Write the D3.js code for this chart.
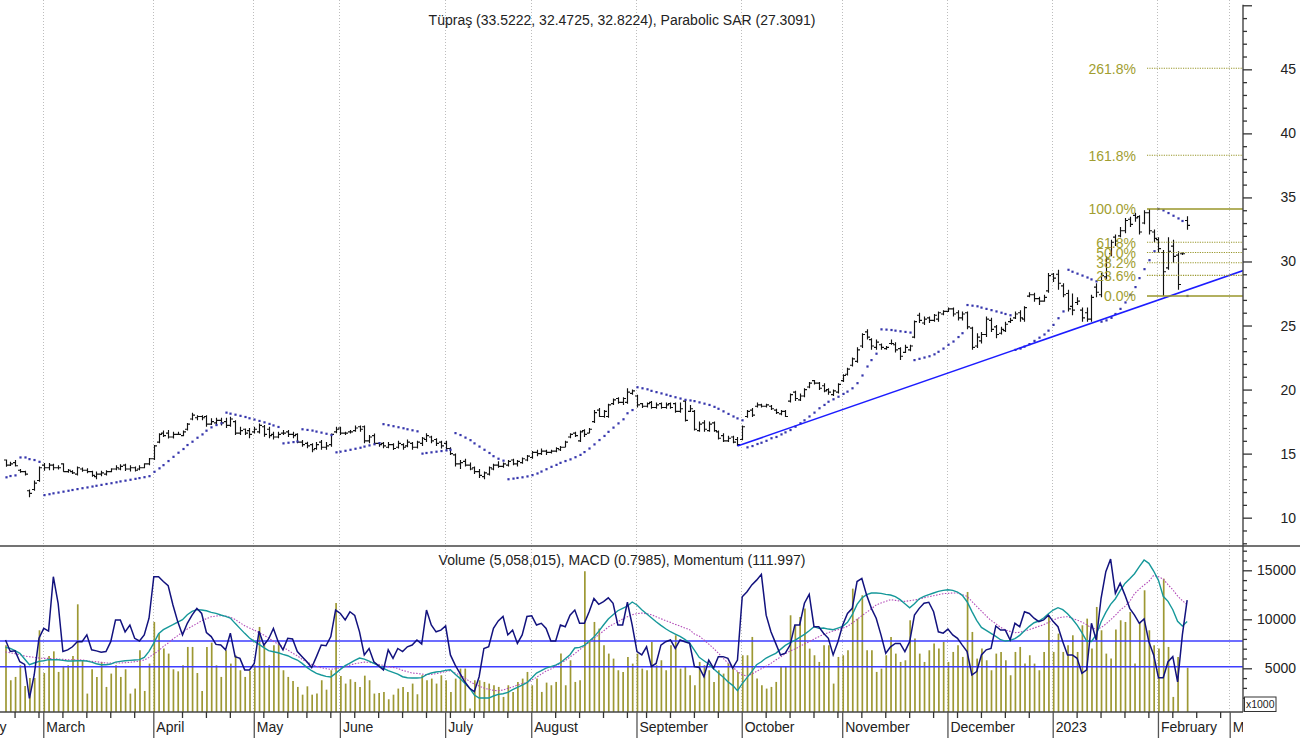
<!DOCTYPE html>
<html><head><meta charset="utf-8">
<script src="https://cdn.jsdelivr.net/npm/d3@7"></script>
<style>
html,body{margin:0;padding:0;background:#fff;}
svg{display:block;font-family:"Liberation Sans",Arial,sans-serif;}
</style></head><body>
<svg id="chart" width="1302" height="740"></svg>
<script>
// ---------------- DATA (trading-day index 0 = 17 Feb 2022) ----------------
const highP = [14.55,14.36,14.5,13.8,13.66,12.2,12.9,14.0,14.26,14.26,
14.2,14.1,14.24,13.8,13.71,14.0,13.92,13.85,13.66,13.6,
13.66,13.71,13.85,14.1,14.18,14.2,14.1,14.0,14.1,14.24,
14.65,15.67,16.6,16.8,16.84,16.7,16.7,16.8,17.4,18.2,
18.0,18.0,18.0,17.76,17.8,17.8,17.8,17.88,17.6,17.1,
16.97,17.0,17.1,17.36,17.23,17.1,16.7,16.7,16.84,16.84,
16.7,16.6,16.06,15.93,15.8,15.9,16.06,15.9,16.58,17.1,
17.1,16.7,16.84,17.2,17.2,17.2,16.45,16.58,15.9,15.9,
15.9,15.8,16.0,15.8,16.1,15.9,16.0,16.3,16.6,16.4,
16.2,16.0,16.0,15.5,15.0,14.5,14.6,14.3,14.0,13.8,
13.6,14.0,14.2,14.4,14.3,14.5,14.6,14.5,14.7,14.9,
15.2,15.3,15.4,15.3,15.3,15.5,15.6,16.0,16.6,16.7,
16.8,16.9,17.0,18.4,18.56,18.4,18.9,19.3,19.4,19.4,
20.1,20.0,19.6,18.95,19.0,19.1,19.0,19.0,19.0,19.0,
19.0,19.0,19.2,18.8,18.4,17.5,17.6,17.5,17.5,16.8,
16.6,16.4,16.4,16.3,17.2,18.4,18.56,19.0,18.9,18.9,
18.8,18.5,18.4,18.4,19.7,19.9,19.7,20.1,20.6,20.75,
20.6,20.5,20.1,20.0,20.5,21.2,21.7,22.5,23.3,24.4,
24.7,24.0,23.9,23.6,23.4,23.9,23.7,23.3,23.5,23.5,
25.4,26.0,25.7,25.7,25.9,26.1,26.2,26.4,26.4,26.2,
26.1,26.1,24.9,24.4,24.5,25.7,25.6,25.05,24.9,25.3,
25.6,26.1,26.2,26.5,27.6,27.55,27.25,27.4,29.1,29.1,
29.35,28.3,27.8,27.5,27.2,26.4,26.4,27.4,28.3,29.1,
30.4,31.7,32.1,32.7,33.4,33.5,33.8,33.6,34.0,34.1,
32.5,31.9,30.9,31.9,31.7,30.8,30.7,33.5222];
const lowP = [13.97,14.03,14.0,13.5,13.3,11.6,12.1,12.8,13.66,13.7,
13.7,13.77,13.58,13.5,13.4,13.3,13.58,13.46,13.2,13.0,
13.24,13.3,13.55,13.7,13.71,13.65,13.6,13.6,13.7,13.85,
14.1,14.5,15.8,16.3,16.19,16.19,16.45,16.35,16.8,17.6,
17.6,17.6,17.1,17.23,17.2,17.2,17.0,17.1,16.45,16.45,
16.45,16.2,16.58,16.58,16.32,16.2,16.1,16.2,16.45,16.3,
16.2,15.8,15.54,15.41,15.1,15.3,15.3,15.3,15.54,16.6,
16.45,16.45,16.58,16.7,16.7,15.8,15.8,15.67,15.54,15.41,
15.41,15.28,15.4,15.3,15.5,15.3,15.4,15.6,15.9,15.8,
15.6,15.4,15.3,14.9,14.0,13.8,14.0,13.7,13.4,13.1,
13.0,13.3,13.7,13.9,13.9,14.0,14.1,14.0,14.2,14.4,
14.6,14.8,14.9,14.9,15.0,15.1,15.2,15.5,16.2,16.3,
15.9,16.3,16.6,17.4,17.86,17.8,17.8,18.8,18.9,18.8,
18.9,19.6,18.6,18.56,18.6,18.5,18.5,18.5,18.5,18.5,
18.2,18.2,17.5,18.25,16.8,16.7,16.7,16.7,16.7,16.1,
15.9,15.9,15.8,15.59,16.05,17.8,17.86,18.6,18.6,18.6,
18.4,18.1,18.0,17.85,19.0,19.1,19.1,19.4,20.1,20.4,
19.97,19.8,19.6,19.5,19.7,20.6,21.1,21.8,22.1,23.25,
23.9,23.1,23.1,23.1,23.1,23.5,22.9,22.3,22.85,23.0,
24.0,25.2,25.05,25.2,25.3,25.3,25.8,26.05,25.7,25.4,
25.4,24.7,23.1,23.25,23.6,24.1,24.5,24.0,24.3,24.5,
25.2,25.5,25.3,25.3,27.2,26.85,26.6,26.85,27.55,28.4,
27.8,27.2,26.1,25.8,26.6,25.3,25.3,25.3,27.2,27.2,
28.6,30.4,31.2,31.9,32.2,32.7,33.1,32.1,32.9,32.1,
31.5,30.7,27.31,29.35,29.9,27.8,30.5,32.4725];
const openP = [14.5,14.1,14.3,13.7,13.6,12.1,12.2,12.9,14.1,13.9,
14.1,13.9,14.2,13.6,13.6,13.4,13.8,13.7,13.6,13.2,
13.4,13.4,13.6,13.8,13.8,14.1,13.8,13.9,13.8,13.9,
14.2,14.6,15.9,16.6,16.6,16.3,16.5,16.4,16.9,17.7,
17.8,17.9,17.9,17.3,17.4,17.6,17.5,17.2,17.5,16.6,
16.9,16.8,16.7,16.7,17.1,16.9,16.5,16.3,16.6,16.7,
16.5,16.5,15.9,15.8,15.7,15.4,15.9,15.5,15.7,16.7,
17.0,16.6,16.7,16.8,17.1,17.1,16.0,16.4,15.8,15.8,
15.5,15.7,15.5,15.7,15.6,15.8,15.5,15.8,16.1,16.3,
16.1,15.9,15.8,15.4,14.9,14.2,14.4,14.1,13.9,13.6,
13.2,13.4,13.8,14.1,14.0,14.1,14.5,14.2,14.3,14.5,
14.7,15.1,15.0,15.2,15.1,15.2,15.3,15.5,16.3,16.6,
16.0,16.8,16.6,17.5,18.4,17.9,17.9,18.9,19.3,19.0,
19.0,19.7,19.5,18.9,18.7,19.0,18.6,18.9,18.6,18.9,
18.9,18.3,19.1,18.3,18.3,16.8,17.4,16.8,17.4,16.7,
16.4,16.0,16.3,16.1,16.1,17.9,18.4,18.7,18.8,18.7,
18.7,18.4,18.1,18.3,19.1,19.8,19.2,19.5,20.2,20.7,
20.5,20.3,20.0,19.6,19.8,20.7,21.2,21.9,22.2,23.4,
24.5,23.9,23.3,23.5,23.2,23.6,23.5,23.2,22.9,23.1,
24.1,25.8,25.2,25.6,25.4,25.5,25.9,26.1,26.3,26.0,
25.6,26.0,24.8,23.4,23.8,24.3,25.4,24.9,24.4,24.6,
25.3,25.6,26.0,25.5,27.3,27.4,27.1,26.9,27.7,29.0,
29.0,28.1,27.5,26.5,26.8,26.2,26.0,25.5,28.0,27.4,
28.8,30.6,31.9,32.0,32.4,33.3,33.6,33.5,33.0,33.8,
32.3,31.7,30.7,29.5,31.2,30.5,30.6,33.2];
const closeP = [14.1,14.2,14.05,13.6,13.4,11.9,12.7,13.9,13.9,14.1,
13.9,13.9,13.6,13.7,13.5,13.9,13.7,13.6,13.3,13.4,
13.5,13.6,13.8,13.9,14.0,13.8,13.9,13.7,13.9,14.2,
14.6,15.6,16.5,16.4,16.3,16.5,16.5,16.7,17.3,18.0,
17.9,17.8,17.3,17.5,17.6,17.4,17.2,17.7,16.6,16.8,
16.6,16.5,16.9,17.2,16.5,16.4,16.3,16.5,16.6,16.5,
16.4,15.9,15.7,15.6,15.3,15.7,15.5,15.6,16.5,16.9,
16.6,16.6,16.7,17.0,16.9,16.0,16.3,15.8,15.7,15.6,
15.7,15.4,15.8,15.5,15.9,15.5,15.9,16.2,16.4,16.0,
15.8,15.6,15.4,15.0,14.2,14.3,14.1,13.8,13.6,13.3,
13.5,13.9,14.1,14.0,14.2,14.4,14.2,14.4,14.6,14.8,
15.1,15.0,15.2,15.1,15.2,15.4,15.5,15.9,16.5,16.4,
16.7,16.5,16.9,18.2,17.9,18.3,18.8,19.2,19.0,19.3,
19.8,19.9,18.8,18.7,18.9,18.6,18.8,18.6,18.8,18.6,
18.3,18.5,17.6,18.5,16.9,17.3,16.9,17.3,16.8,16.2,
16.0,16.2,15.9,15.7,17.1,18.3,18.0,18.8,18.7,18.8,
18.5,18.2,18.3,17.9,19.6,19.3,19.5,20.0,20.5,20.5,
20.1,19.9,19.8,19.9,20.4,21.1,21.6,22.4,23.1,24.3,
24.1,23.4,23.7,23.3,23.3,23.6,23.1,22.6,23.3,23.4,
25.3,25.4,25.5,25.4,25.8,26.0,26.1,26.3,25.9,25.6,
25.9,24.9,23.3,24.1,24.3,25.5,24.7,24.3,24.7,25.1,
25.4,25.9,25.6,26.4,27.4,27.1,26.9,27.2,28.9,28.7,
28.3,27.4,26.3,26.2,26.9,25.6,25.5,27.2,27.6,28.9,
30.2,31.5,31.6,32.4,33.2,32.9,33.4,32.3,33.8,32.4,
31.8,31.0,29.2,30.8,30.4,28.2,30.6,32.8224];
const sarP = [13.15,13.25,13.3,
14.7,14.7,14.57,14.5,14.36,
11.76,11.83,11.90,11.96,12.03,12.10,12.16,12.23,12.30,12.36,12.43,12.49,12.56,12.63,12.69,12.76,12.83,12.89,12.96,13.03,13.09,13.16,13.24,
13.58,13.85,14.1,14.42,14.75,15.07,15.36,15.67,15.93,16.24,16.5,16.79,17.05,17.23,17.37,
18.2,18.12,18.04,17.95,17.86,17.76,17.66,17.55,17.44,17.32,17.2,17.08,
15.8,15.85,15.9,15.95,
16.9,16.85,16.8,16.72,16.64,16.55,16.45,
15.1,15.15,15.22,15.3,15.38,15.46,15.55,15.64,15.73,15.82,
17.3,17.22,17.14,17.06,16.98,16.9,16.82,16.74,
15.0,15.05,15.1,15.15,15.2,15.25,15.3,
16.6,16.45,16.25,16.05,15.8,15.55,15.3,15.05,14.8,14.6,14.45,
13.0,13.05,13.1,13.15,13.22,13.32,13.45,13.6,13.78,
13.97,14.12,14.28,14.42,14.55,14.72,14.9,15.12,15.4,15.72,16.06,16.38,16.7,17.03,17.36,17.68,18.15,18.4,
20.18,20.1,20.02,19.9,19.8,19.7,19.6,19.5,19.4,19.3,19.2,19.15,19.1,19.0,18.9,18.8,18.65,18.5,18.3,18.1,17.9,17.75,17.6,
15.49,15.59,15.75,15.85,16.0,16.2,16.3,16.5,16.66,16.84,17.1,17.37,17.6,17.9,18.2,18.54,18.8,19.05,19.24,19.44,19.66,19.84,20.1,20.5,21.1,21.8,22.3,22.8,
24.7,24.68,24.65,24.6,24.55,24.5,24.45,
22.3,22.4,22.5,22.6,22.75,22.95,23.2,23.5,23.75,24.1,24.4,
26.6,26.55,26.5,26.4,26.3,26.2,26.1,26.0,25.9,25.8,
23.1,23.2,23.35,23.55,23.8,24.05,24.3,24.6,25.05,25.57,26.1,
29.35,29.2,29.05,28.9,28.75,28.6,28.45,
25.3,25.4,25.6,25.9,26.3,26.8,27.4,28.0,28.7,29.4,30.1,30.8,
34.1,33.99,33.78,33.57,33.36,33.16,
27.3091];
const volumeK = [7350,3780,4120,5310,3200,4010,4010,8880,4520,6260,
6730,4630,5240,5310,6260,11530,5820,2420,4900,4120,
5650,3100,4460,5310,4120,4900,2420,2930,6840,2690,
5480,9730,8540,7010,6500,4900,4690,5310,7180,7180,
4520,2690,7180,7620,5310,4120,6840,5480,6330,4800,
4120,4760,5310,9220,7350,5310,7350,7690,4800,4120,
3710,3100,2310,3160,2310,2420,3780,2820,4800,11670,
4220,3440,3880,3610,3100,4250,3780,2420,2480,2590,
1840,2310,2930,3100,2590,3440,2350,4290,3780,3950,
3440,4290,3780,2590,3950,4970,4970,890,3780,3780,
3610,3440,3270,3100,2080,3270,2590,3610,3950,4630,
3270,3950,2590,3540,3270,3610,6500,3270,5820,3610,
3780,14900,7690,9730,9050,7350,6500,5990,4800,4630,
6160,5480,6500,4970,4800,7690,5310,5820,4800,7350,
8370,4970,5140,4290,3270,5650,5310,4800,3610,4800,
4460,5480,4970,4630,6330,6330,8200,3950,3270,2930,
3100,3610,5140,5140,10410,9390,10240,11090,7010,6330,
5650,7350,7350,3440,6160,6330,6840,13130,10070,12450,
6840,6840,4630,4970,6330,8200,6500,5650,5820,9900,
8030,6500,5650,6840,7520,7010,7690,5650,6670,7350,
6160,12790,8710,5990,7010,5820,4800,6500,6670,5820,
4290,6670,7180,5480,6330,5480,4800,6670,10410,6670,
8540,6670,7350,8370,6670,9390,10070,7010,11260,8880,
6500,5990,8950,9900,9730,10750,5480,9730,12960,8880,
7350,7010,14150,7180,2080,6160,0,5058];
const momentumV = [100.3,96.9,97.1,93.9,93.1,83.1,90.0,100.8,103.7,102.9,
118.9,111.1,96.9,97.4,98.3,99.8,99.8,101.8,97.4,97.1,
96.7,96.9,99.8,106.2,106.2,102.7,104.7,100.8,100.0,101.8,
106.7,118.9,118.9,117.5,116.3,110.6,105.7,101.8,105.2,107.6,
109.6,108.1,102.5,101.3,99.0,98.8,97.4,102.3,95.4,94.9,
91.5,91.5,93.4,102.9,98.8,100.6,103.7,99.8,97.4,100.8,
100.6,96.9,95.4,93.9,92.2,95.4,98.8,98.6,101.3,109.1,
108.1,106.2,108.6,107.5,102.7,95.9,97.8,93.9,92.7,91.5,
97.4,94.9,97.8,96.9,98.3,98.8,100.3,99.1,109.1,104.7,
102.7,103.2,104.4,95.9,92.9,90.5,88.0,86.1,85.1,89.5,
97.8,98.3,103.7,105.9,107.2,101.8,103.2,99.3,101.8,107.2,
107.4,104.7,105.2,103.7,100.0,100.0,104.7,104.2,107.6,109.1,
105.2,105.2,108.6,112.5,110.8,111.6,112.7,111.1,104.7,104.7,
111.4,104.7,96.9,95.9,98.3,92.5,93.4,98.8,99.8,100.3,
97.8,100.3,99.8,99.3,92.5,92.2,89.5,94.4,92.0,95.4,
95.4,94.9,92.0,94.4,113.0,114.5,116.5,117.9,119.6,107.6,
102.7,99.3,95.9,96.4,98.8,104.7,104.7,111.1,113.7,104.2,
104.2,102.3,100.8,95.9,99.8,104.7,108.1,109.6,117.5,118.4,
113.5,109.6,106.7,101.8,96.4,98.3,99.3,99.3,96.9,99.8,
107.6,109.6,111.1,111.4,108.6,102.7,102.3,103.5,101.8,100.8,
98.8,96.9,90.0,91.0,95.9,97.4,97.8,104.4,103.2,103.2,
100.3,105.2,104.2,108.6,108.1,106.7,105.7,106.2,107.6,105.7,
104.2,99.8,95.9,95.9,94.9,90.5,91.5,105.2,100.3,112.5,
120.4,124.1,114.0,117.0,113.5,109.6,107.6,105.2,106.5,99.8,
95.9,89.2,89.2,93.9,95.4,88.0,101.8,111.997];
const macdV = [0.342,0.324,0.283,0.236,0.135,0.035,0.065,0.094,0.106,0.124,
0.124,0.124,0.112,0.1,0.1,0.106,0.106,0.1,0.082,0.053,
0.035,0.035,0.047,0.082,0.094,0.106,0.112,0.118,0.124,0.165,
0.271,0.418,0.583,0.654,0.701,0.742,0.789,0.83,0.919,0.978,
1.007,1.001,0.989,0.96,0.942,0.913,0.889,0.86,0.766,0.677,
0.589,0.506,0.448,0.395,0.336,0.283,0.265,0.247,0.218,0.194,
0.153,0.118,0.059,-0.012,-0.071,-0.118,-0.147,-0.171,-0.183,-0.118,
-0.047,0.018,0.065,0.112,0.153,0.135,0.1,0.059,0.018,-0.029,
-0.071,-0.1,-0.13,-0.177,-0.194,-0.2,-0.2,-0.194,-0.141,-0.112,
-0.094,-0.082,-0.065,-0.053,-0.135,-0.206,-0.294,-0.377,-0.5,-0.554,
-0.554,-0.554,-0.518,-0.489,-0.477,-0.453,-0.406,-0.365,-0.324,-0.283,
-0.2,-0.112,-0.071,-0.024,0,0.029,0.071,0.141,0.212,0.33,
0.342,0.377,0.448,0.524,0.624,0.736,0.842,0.919,0.989,1.031,
1.072,1.143,1.09,1.007,0.936,0.866,0.795,0.73,0.671,0.618,
0.577,0.536,0.483,0.418,0.294,0.165,0.106,0.047,-0.035,-0.112,
-0.183,-0.265,-0.33,-0.424,-0.3,-0.194,-0.088,0.035,0.088,0.153,
0.194,0.236,0.306,0.377,0.424,0.465,0.518,0.571,0.636,0.707,
0.677,0.683,0.665,0.654,0.683,0.713,0.783,0.919,1.101,1.213,
1.272,1.302,1.302,1.296,1.278,1.266,1.237,1.184,1.113,1.042,
1.113,1.201,1.243,1.272,1.302,1.331,1.349,1.36,1.349,1.319,
1.26,1.148,0.978,0.819,0.695,0.642,0.589,0.536,0.477,0.453,
0.465,0.495,0.554,0.636,0.713,0.777,0.807,0.86,0.936,1.001,
1.042,1.007,0.936,0.842,0.736,0.601,0.453,0.447,0.565,0.789,
0.96,1.101,1.201,1.343,1.472,1.555,1.643,1.767,1.885,1.826,
1.69,1.525,1.243,1.154,1.007,0.801,0.718,0.7985];
const signalV = [0.259,0.247,0.23,0.212,0.188,0.177,0.165,0.153,0.147,0.147,
0.141,0.135,0.13,0.124,0.124,0.124,0.118,0.106,0.094,0.088,
0.077,0.065,0.065,0.065,0.065,0.071,0.077,0.088,0.1,0.118,
0.165,0.224,0.283,0.359,0.418,0.489,0.548,0.612,0.665,0.713,
0.76,0.813,0.848,0.883,0.895,0.901,0.895,0.872,0.836,0.777,
0.724,0.683,0.648,0.601,0.559,0.506,0.448,0.4,0.347,0.294,
0.241,0.194,0.13,0.082,0.041,0.006,-0.018,-0.035,-0.047,-0.035,
-0.018,0,0.029,0.053,0.065,0.082,0.077,0.065,0.041,0.024,
0,-0.012,-0.029,-0.065,-0.088,-0.112,-0.118,-0.13,-0.141,-0.135,
-0.124,-0.106,-0.082,-0.071,-0.112,-0.147,-0.2,-0.259,-0.306,-0.342,
-0.377,-0.4,-0.418,-0.424,-0.412,-0.383,-0.359,-0.324,-0.3,-0.283,
-0.236,-0.188,-0.13,-0.077,-0.041,0.006,0.059,0.106,0.171,0.23,
0.3,0.365,0.43,0.501,0.565,0.63,0.701,0.748,0.795,0.842,
0.883,0.919,0.936,0.948,0.936,0.919,0.883,0.848,0.813,0.783,
0.748,0.718,0.683,0.654,0.577,0.542,0.471,0.4,0.324,0.241,
0.153,0.065,-0.006,-0.082,-0.141,-0.165,-0.13,-0.082,-0.035,0.006,
0.059,0.118,0.171,0.23,0.277,0.312,0.359,0.4,0.441,0.489,
0.53,0.571,0.601,0.63,0.654,0.683,0.713,0.771,0.836,0.901,
0.96,1.025,1.09,1.125,1.154,1.184,1.172,1.16,1.154,1.166,
1.178,1.19,1.219,1.237,1.254,1.272,1.29,1.296,1.302,1.302,
1.272,1.243,1.154,1.066,0.983,0.895,0.819,0.76,0.695,0.648,
0.624,0.601,0.607,0.63,0.654,0.683,0.713,0.742,0.783,0.824,
0.86,0.877,0.883,0.854,0.824,0.789,0.742,0.683,0.665,0.689,
0.754,0.83,0.907,1.001,1.066,1.154,1.29,1.372,1.443,1.508,
1.614,1.59,1.549,1.449,1.36,1.249,1.166,1.095];

const monthLabels = ["February","March","April","May","June","July","August","September","October","November","December","2023","February","March"];
const monthIdx = [-12,8,31,52,70,92,110,132,154,175,197,219,241,256];
const weekIdx = [2,7,12,17,22,27,37,42,47,54,59,63,68,73,78,83,88,93,98,100,105,115,120,125,130,134,139,144,149,159,164,169,174,179,184,189,194,199,204,209,214,224,229,234,239,244,249,254];
const priceMajorTicks = [10,15,20,25,30,35,40,45,50];
const volumeMajorTicks = [5000,10000,15000];

const fibPct = [0,23.6,38.2,50,61.8,100,161.8,261.8];
const fibLabels = ["0.0%","23.6%","38.2%","50.0%","61.8%","100.0%","161.8%","261.8%"];
const fibLow = 27.31, fibHigh = 34.1, fibStartIdx = 238.6;
const trendIdx = [153, 258.8];
const trendVal = [15.59, 29.3];
const momentumRef = 100, macdRef = 0;

const titleText = "Tüpraş (33.5222, 32.4725, 32.8224), Parabolic SAR (27.3091)";
const subTitleText = "Volume (5,058,015), MACD (0.7985), Momentum (111.997)";

// ---------------- LAYOUT ----------------
const svg = d3.select("#chart");
const plotR = 1243, sepY = 546, axisY = 712;
const x = d3.scaleLinear().domain([0,247]).range([5.5, 5.5 + 4.784*247]);
const yP = d3.scaleLinear().domain([10,45]).range([517.67,69.33]);
const yV = d3.scaleLinear().domain([5000,15000]).range([668.3,570.3]);
const yM = d3.scaleLinear().domain([100,110]).range([641,607]);
const yD = d3.scaleLinear().domain([0,1]).range([666.7,610.1]);
const font = '"Liberation Sans",Arial,sans-serif';

svg.append("rect").attr("width",1302).attr("height",740).attr("fill","#fff");
const defs = svg.append("defs");
defs.append("clipPath").attr("id","cTop").append("rect").attr("x",0).attr("y",0).attr("width",plotR).attr("height",sepY);
defs.append("clipPath").attr("id","cBot").append("rect").attr("x",0).attr("y",sepY+1).attr("width",plotR).attr("height",axisY-sepY-1);
defs.append("clipPath").attr("id","cLab").append("rect").attr("x",0).attr("y",axisY).attr("width",plotR).attr("height",30);

// grid
svg.append("g").selectAll("line").data(monthIdx).join("line")
  .attr("x1",d=>Math.round(x(d))-0.5).attr("x2",d=>Math.round(x(d))-0.5)
  .attr("y1",0).attr("y2",axisY)
  .attr("stroke","#bdbdbd").attr("stroke-width",1).attr("stroke-dasharray","1,2");

// ---- bottom panel ----
const gB = svg.append("g").attr("clip-path","url(#cBot)");
gB.append("g").selectAll("line").data(volumeK.map((v,i)=>({v,i})).filter(d=>d.v>0)).join("line")
  .attr("x1",d=>x(d.i)+0.5).attr("x2",d=>x(d.i)+0.5)
  .attr("y1",d=>Math.max(yV(d.v),sepY)).attr("y2",axisY)
  .attr("stroke","#9d9833").attr("stroke-width",1.7);
gB.append("line").attr("x1",0).attr("x2",plotR).attr("y1",yM(momentumRef)).attr("y2",yM(momentumRef))
  .attr("stroke","#3d3dff").attr("stroke-width",1.6);
gB.append("line").attr("x1",0).attr("x2",plotR).attr("y1",yD(macdRef)).attr("y2",yD(macdRef))
  .attr("stroke","#3d3dff").attr("stroke-width",1.6);
gB.append("path").datum(signalV).attr("fill","none").attr("stroke","#b24ab8").attr("stroke-width",1.1)
  .attr("stroke-dasharray","1.5,1.5").attr("d",d3.line().x((d,i)=>x(i)).y(d=>yD(d)));
gB.append("path").datum(macdV).attr("fill","none").attr("stroke","#16989a").attr("stroke-width",1.4)
  .attr("d",d3.line().x((d,i)=>x(i)).y(d=>yD(d)));
gB.append("path").datum(momentumV).attr("fill","none").attr("stroke","#12127e").attr("stroke-width",1.5)
  .attr("d",d3.line().x((d,i)=>x(i)).y(d=>yM(d)));

// ---- top panel ----
const gT = svg.append("g").attr("clip-path","url(#cTop)");
let pth = "";
highP.forEach((h,i)=>{
  const cx = Math.round(x(i))+0.5;
  pth += `M${cx},${yP(h)}V${yP(lowP[i])}M${cx-2.5},${yP(openP[i])}H${cx}M${cx},${yP(closeP[i])}H${cx+2.5}`;
});
gT.append("path").attr("d",pth).attr("fill","none").attr("stroke","#111").attr("stroke-width",1.15);
gT.append("g").selectAll("rect").data(sarP).join("rect")
  .attr("x",(d,i)=>Math.round(x(i))-0.6).attr("y",d=>yP(d)-1.1).attr("width",2.2).attr("height",2.2)
  .attr("fill","#3636ac");
gT.append("line").attr("x1",x(trendIdx[0])).attr("y1",yP(trendVal[0]))
  .attr("x2",x(trendIdx[1])).attr("y2",yP(trendVal[1]))
  .attr("stroke","#1c1cff").attr("stroke-width",1.5);
const fx0 = x(fibStartIdx);
fibPct.forEach((p,k)=>{
  const v = fibLow + (fibHigh-fibLow)*p/100;
  const solid = (p===0||p===100);
  gT.append("line").attr("x1",fx0).attr("x2",plotR).attr("y1",yP(v)).attr("y2",yP(v))
    .attr("stroke","#98962a").attr("stroke-width",solid?1.6:1.1)
    .attr("stroke-dasharray",solid?null:"1.2,1.2");
  gT.append("text").attr("x",fx0-11).attr("y",yP(v)+5.5).attr("text-anchor","end")
    .attr("font-size",14).attr("font-family",font).attr("fill","#a19e30").text(fibLabels[k]);
});

// titles
svg.append("text").attr("x",622).attr("y",24.5).attr("text-anchor","middle").attr("font-size",14)
  .attr("font-family",font).attr("fill","#222").text(titleText);
svg.append("text").attr("x",622).attr("y",565).attr("text-anchor","middle").attr("font-size",14)
  .attr("font-family",font).attr("fill","#222").text(subTitleText);

// frame lines
svg.append("line").attr("x1",0).attr("x2",1300).attr("y1",sepY).attr("y2",sepY).attr("stroke","#444").attr("stroke-width",1.4);
svg.append("line").attr("x1",0).attr("x2",plotR).attr("y1",axisY).attr("y2",axisY).attr("stroke","#444").attr("stroke-width",1.4);
svg.append("line").attr("x1",plotR).attr("x2",plotR).attr("y1",4.7).attr("y2",axisY).attr("stroke","#444").attr("stroke-width",1.4);

// price axis
function styleAxis(g){ g.select(".domain").remove(); g.selectAll("line").attr("stroke","#333").attr("stroke-width",1.3);
  g.selectAll("text").attr("font-size",14).attr("font-family",font).attr("fill","#222"); }
const minorP = d3.range(8,51).filter(v=>!priceMajorTicks.includes(v));
svg.append("g").attr("transform",`translate(${plotR},0)`)
  .call(d3.axisRight(yP).tickValues(minorP).tickSize(4).tickFormat("")).call(styleAxis);
svg.append("g").attr("transform",`translate(${plotR},0)`)
  .call(d3.axisRight(yP).tickValues(priceMajorTicks).tickSize(9).tickFormat(d=>d===50?"":d))
  .call(styleAxis).call(g=>g.selectAll("text").attr("x",53).attr("text-anchor","end"));
// volume axis
const minorV = d3.range(2000,17001,1000).filter(v=>!volumeMajorTicks.includes(v));
svg.append("g").attr("transform",`translate(${plotR},0)`)
  .call(d3.axisRight(yV).tickValues(minorV).tickSize(4).tickFormat("")).call(styleAxis);
svg.append("g").attr("transform",`translate(${plotR},0)`)
  .call(d3.axisRight(yV).tickValues(volumeMajorTicks).tickSize(9).tickFormat(d=>d))
  .call(styleAxis).call(g=>g.selectAll("text").attr("x",53).attr("text-anchor","end"));
// x1000 box
svg.append("rect").attr("x",1244.5).attr("y",697).attr("width",31.5).attr("height",14.5)
  .attr("fill","#fff").attr("stroke","#333").attr("stroke-width",1);
svg.append("text").attr("x",1260.2).attr("y",708.3).attr("text-anchor","middle").attr("font-size",10.5)
  .attr("font-family",font).attr("fill","#222").text("x1000");

// x axis
svg.append("g").attr("transform",`translate(0,${axisY})`)
  .call(d3.axisBottom(x).tickValues(weekIdx).tickSize(6).tickFormat(""))
  .call(g=>{g.select(".domain").remove(); g.selectAll("line").attr("stroke","#333").attr("stroke-width",1.3)
     .attr("transform","translate(-0.5,0)");});
svg.append("g").attr("transform",`translate(0,${axisY})`)
  .call(d3.axisBottom(x).tickValues(monthIdx).tickSize(26).tickFormat(""))
  .call(g=>{g.select(".domain").remove(); g.selectAll("line").attr("stroke","#555").attr("stroke-width",1.3)
     .attr("transform","translate(-0.5,0)");});
svg.append("g").attr("clip-path","url(#cLab)").selectAll("text").data(monthIdx).join("text")
  .attr("x",d=>x(d)+2.5).attr("y",732).attr("font-size",14).attr("font-family",font).attr("fill","#222")
  .text((d,k)=>monthLabels[k]);
</script>
</body></html>
